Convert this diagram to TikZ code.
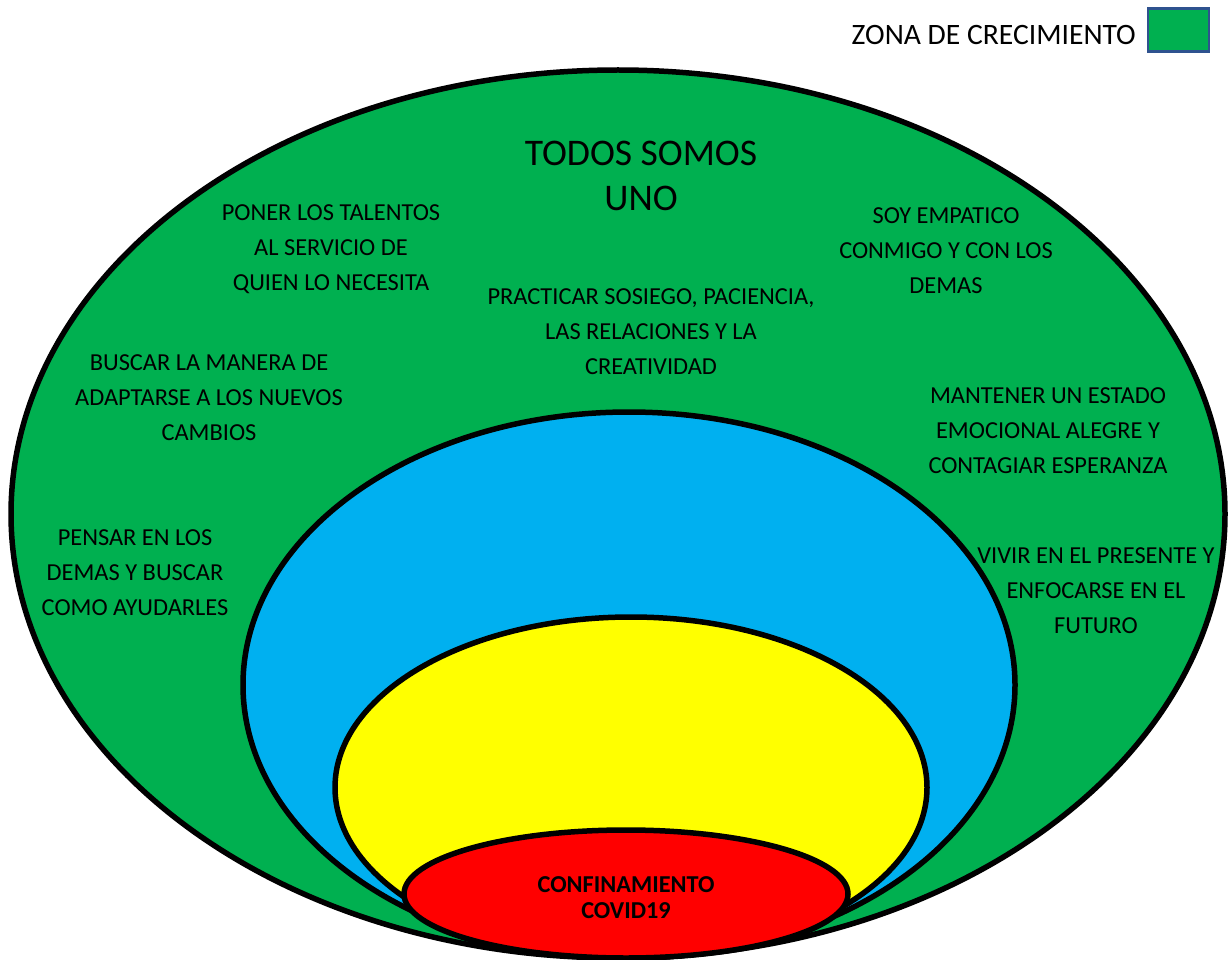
\documentclass[tikz,border=0pt]{standalone}
\usepackage{fontspec}
\setmainfont{Carlito}
\definecolor{zgreen}{HTML}{00B050}
\definecolor{zblue}{HTML}{00B0F0}
\definecolor{zyellow}{HTML}{FFFF00}
\definecolor{zred}{HTML}{FF0000}
\definecolor{zborder}{HTML}{2F528F}
\tikzset{
  zone/.style={draw=black, line width=5.5pt},
  lbl/.style={align=center, inner sep=0pt, font=\fontsize{24.4}{35}\selectfont},
  ttl/.style={align=center, inner sep=0pt, font=\fontsize{37.6}{45}\selectfont},
}
\begin{document}
\begin{tikzpicture}[x=1pt,y=-1pt]
\useasboundingbox (0,0) rectangle (1231,960);
\clip (0,0) rectangle (1231,960);
% nested zones
\path[zone, fill=zgreen] (618,514) ellipse [x radius=607pt, y radius=444pt];
\path[zone, fill=zblue] (629,685) ellipse [x radius=386pt, y radius=273pt];
\path[zone, fill=zyellow] (631,787.5) ellipse [x radius=296pt, y radius=170.5pt];
\path[zone, fill=zred] (626,894) ellipse [x radius=222pt, y radius=64pt];
% texts
\node[ttl] (title) at (641,175.5) {TODOS SOMOS\\UNO};
\node[lbl] (talentos) at (331,249) {PONER LOS TALENTOS\\AL SERVICIO DE\\QUIEN LO NECESITA};
\node[lbl] (sosiego) at (651,332) {PRACTICAR SOSIEGO, PACIENCIA,\\LAS RELACIONES Y LA\\CREATIVIDAD};
\node[lbl] (empatico) at (946,251) {SOY EMPATICO\\CONMIGO Y CON LOS\\DEMAS};
\node[lbl] (adaptarse) at (209,398) {BUSCAR LA MANERA DE\\ADAPTARSE A LOS NUEVOS\\CAMBIOS};
\node[lbl] (alegre) at (1048,430.5) {MANTENER UN ESTADO\\EMOCIONAL ALEGRE Y\\CONTAGIAR ESPERANZA};
\node[lbl] (ayudar) at (135,572.5) {PENSAR EN LOS\\DEMAS Y BUSCAR\\COMO AYUDARLES};
\node[lbl] (presente) at (1096,590.5) {VIVIR EN EL PRESENTE Y\\ENFOCARSE EN EL\\FUTURO};
\node[align=center, inner sep=0pt, font=\fontsize{24.3}{26}\selectfont\bfseries] (covid) at (626,898) {CONFINAMIENTO\\COVID19};
% legend
\node[anchor=east, inner sep=0pt, font=\fontsize{29.6}{32}\selectfont] (legtext) at (1136,35) {ZONA DE CRECIMIENTO};
\node[draw=zborder, fill=zgreen, line width=2.5pt, minimum width=61pt, minimum height=43pt, inner sep=0pt] (legbox) at (1178.5,30) {};
\end{tikzpicture}
\end{document}
